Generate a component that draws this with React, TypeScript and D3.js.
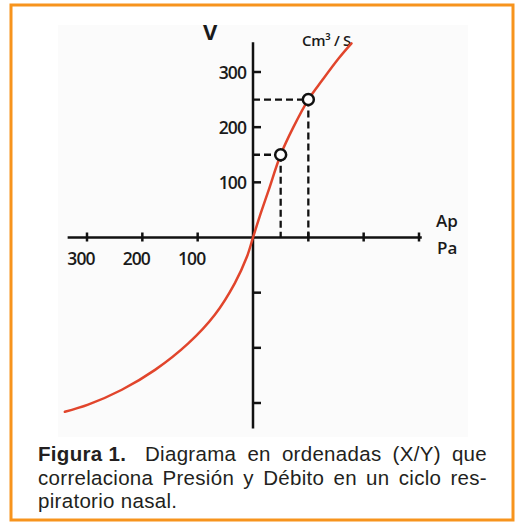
import React, { useEffect, useRef } from 'react';
import * as d3 from 'd3';

// curve: pressure (Pa) vs flow (cm3/s)
const curveX = [-340, -298, -237, -177, -117, -69, -33, -11, 0, 12, 28, 50, 73, 100, 125, 155, 178];
const curveY = [-316, -303, -276, -240, -192, -140, -83, -35, 0, 38, 85, 150, 200, 250, 285, 325, 352];

// marked points with their dashed guides
const markX = [50, 100];
const markY = [150, 250];

const xTicks = [-300, -200, -100, 100, 200, 300];
const xTickLabels = ['300', '200', '100'];
const yTicks = [-300, -200, -100, 100, 200, 300];
const yTickLabels = ['100', '200', '300'];

const captionLines = [
  ['Diagrama', 'en', 'ordenadas', '(X/Y)', 'que'],
  ['correlaciona', 'Presión', 'y', 'Débito', 'en', 'un', 'ciclo', 'res-'],
  ['piratorio', 'nasal.'],
];

export default function App() {
  const ref = useRef<SVGSVGElement>(null);

  useEffect(() => {
    const svg = d3.select(ref.current);
    svg.selectAll('*').remove();

    const x = d3.scaleLinear().domain([-300, 300]).range([87, 419]);
    const y = d3.scaleLinear().domain([-300, 300]).range([403, 72]);

    // frame
    svg.append('rect')
      .attr('x', 11).attr('y', 5).attr('width', 502).attr('height', 515)
      .attr('fill', '#fff').attr('stroke', '#f7941d').attr('stroke-width', 3);
    svg.append('rect')
      .attr('x', 58).attr('y', 25).attr('width', 410).attr('height', 412)
      .attr('fill', '#fbfbfb');

    const g = svg.append('g');

    // dashed guides
    markX.forEach((mx, i) => {
      g.append('line')
        .attr('x1', x(0)).attr('x2', x(mx)).attr('y1', y(markY[i])).attr('y2', y(markY[i]))
        .attr('stroke', '#111').attr('stroke-width', 2.3).attr('stroke-dasharray', '7,4');
      g.append('line')
        .attr('x1', x(mx)).attr('x2', x(mx)).attr('y1', y(markY[i])).attr('y2', y(0))
        .attr('stroke', '#111').attr('stroke-width', 2.3).attr('stroke-dasharray', '7,4');
    });

    // axes
    g.append('line')
      .attr('x1', x(-335)).attr('x2', x(305)).attr('y1', y(0)).attr('y2', y(0))
      .attr('stroke', '#111').attr('stroke-width', 2.5);
    g.append('line')
      .attr('x1', x(0)).attr('x2', x(0)).attr('y1', y(354)).attr('y2', y(-346))
      .attr('stroke', '#111').attr('stroke-width', 2.5);

    g.selectAll('.xt').data(xTicks).enter().append('line')
      .attr('x1', d => x(d)).attr('x2', d => x(d))
      .attr('y1', y(0) - 5).attr('y2', y(0) + 4)
      .attr('stroke', '#111').attr('stroke-width', 2.5);
    g.selectAll('.yt').data(yTicks).enter().append('line')
      .attr('x1', x(0)).attr('x2', x(0) + 8)
      .attr('y1', d => y(d)).attr('y2', d => y(d))
      .attr('stroke', '#111').attr('stroke-width', 2.5);

    g.selectAll('.xl').data(xTickLabels).enter().append('text')
      .attr('x', (d, i) => x(xTicks[i]) - 6).attr('y', y(0) + 27)
      .attr('text-anchor', 'middle').attr('font-size', 17.5).attr('letter-spacing', -0.9)
      .attr('font-family', 'Open Sans').attr('font-weight', 600)
      .attr('fill', '#1a1a1a').text(d => d);

    g.selectAll('.yl').data(yTickLabels).enter().append('text')
      .attr('x', x(0) - 7).attr('y', (d, i) => y(yTicks[i + 3]) + 6.5)
      .attr('text-anchor', 'end').attr('font-size', 17.5).attr('letter-spacing', -0.9)
      .attr('font-family', 'Open Sans').attr('font-weight', 600)
      .attr('fill', '#1a1a1a').text(d => d);

    const addText = (t: string, tx: number, ty: number, size: number, weight = 600) =>
      g.append('text').attr('x', tx).attr('y', ty).attr('font-size', size)
        .attr('font-family', 'Open Sans').attr('font-weight', weight)
        .attr('fill', '#1a1a1a').text(t);

    addText('V', 203, 40, 22, 700);
    addText('Cm³ / S', 302, 46, 15).attr('letter-spacing', -0.3);
    addText('Ap', 436, 227, 17);
    addText('Pa', 437, 254, 17);

    // curve
    const pts = curveX.map((cx, i) => [cx, curveY[i]] as [number, number]);
    const line = d3.line<[number, number]>()
      .x(d => x(d[0])).y(d => y(d[1]))
      .curve(d3.curveCatmullRom);
    g.append('path').attr('d', line(pts))
      .attr('fill', 'none').attr('stroke', '#e1452c').attr('stroke-width', 2.5)
      .attr('stroke-linecap', 'round');

    g.selectAll('.mk').data(markX).enter().append('circle')
      .attr('cx', d => x(d)).attr('cy', (d, i) => y(markY[i])).attr('r', 5.5)
      .attr('fill', '#fff').attr('stroke', '#111').attr('stroke-width', 2.5);

    // caption, justified
    const left = 38, right = 487, base = [461, 485, 508];
    const cap = svg.append('g')
      .attr('font-family', 'Liberation Sans, Arial, sans-serif')
      .attr('font-size', 20.5).attr('letter-spacing', 0.3).attr('fill', '#231f20');

    captionLines.forEach((words, li) => {
      const items: { t: string; bold: boolean; gap: number }[] = [];
      if (li === 0) items.push({ t: 'Figura 1.', bold: true, gap: 1.7 });
      words.forEach(w => items.push({ t: w, bold: false, gap: 1 }));
      const nodes = items.map(it =>
        cap.append('text').attr('y', base[li])
          .attr('font-weight', it.bold ? 700 : 400).text(it.t));
      const widths = nodes.map(n => (n.node() as SVGTextElement).getComputedTextLength());
      const total = d3.sum(widths);
      const gapUnits = d3.sum(items.slice(0, -1), it => it.gap);
      const last = li === captionLines.length - 1;
      const unit = last ? 6 : (right - left - total) / gapUnits;
      let cx = left;
      nodes.forEach((n, i) => {
        n.attr('x', cx);
        cx += widths[i] + unit * items[i].gap;
      });
    });
  }, []);

  return (
    <div style={{ position: 'absolute', left: 0, top: 0 }}>
      <svg ref={ref} width={515} height={523} />
    </div>
  );
}
